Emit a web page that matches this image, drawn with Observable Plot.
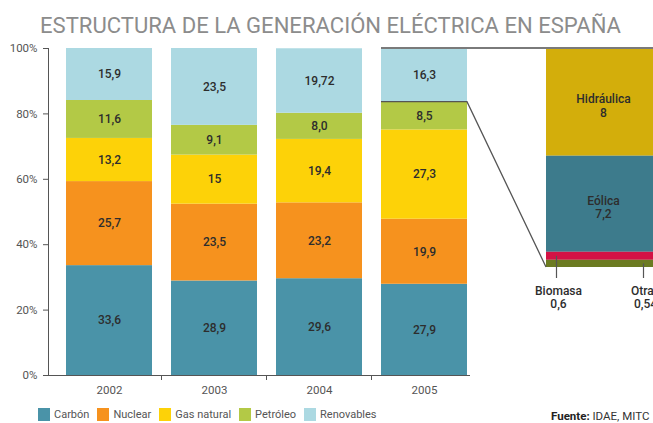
<!DOCTYPE html>
<html><head><meta charset="utf-8">
<script src="https://cdn.jsdelivr.net/npm/d3@7"></script>
<script src="https://cdn.jsdelivr.net/npm/@observablehq/plot@0.6"></script>
<style>
body{margin:0;background:#fff;font-family:Roboto,sans-serif}
#wrap{position:relative;width:653px;height:423px;overflow:hidden;background:#fff}
#title{position:absolute;left:0;top:0}
#main,#panel{position:absolute;left:0;top:40px}
#legend{position:absolute;left:38px;top:408px}
#source{position:absolute;left:551px;top:409px;font-size:11.5px;color:#333;white-space:nowrap}
#source b{color:#222;font-weight:700}
.lg-swatches{min-height:0!important;margin:0!important}
.lg-swatch{margin-right:8px!important}
.lg-swatch > svg{margin-right:4px!important}
</style></head><body>
<div id="wrap">
  <svg id="title" width="653" height="40"><text x="40" y="33" textLength="581" lengthAdjust="spacingAndGlyphs" fill="#8c8c8c" font-family="Roboto, sans-serif" font-size="22.5">ESTRUCTURA DE LA GENERACIÓN ELÉCTRICA EN ESPAÑA</text></svg>
  <div id="main"></div>
  <div id="panel"></div>
  <div id="legend"></div>
  <div id="source"><b>Fuente:</b> IDAE, MITC</div>
</div>
<script>
const years = ["2002", "2003", "2004", "2005"];
const sources = ["Carbón", "Nuclear", "Gas natural", "Petróleo", "Renovables"];
const carbon = ["33,6", "28,9", "29,6", "27,9"];
const nuclear = ["25,7", "23,5", "23,2", "19,9"];
const gas = ["13,2", "15", "19,4", "27,3"];
const petroleo = ["11,6", "9,1", "8,0", "8,5"];
const renovables = ["15,9", "23,5", "19,72", "16,3"];
const sourceColors = ["#4a93a8", "#f6921e", "#fdd208", "#b3c946", "#acd9e2"];
const yTicks = [0, 20, 40, 60, 80, 100];

const renewYear = "2005";
const renewTypes = ["Hidráulica", "Eólica", "Biomasa", "Otras"];
const renewValues = ["8", "7,2", "0,6", "0,54"];
const renewColors = ["#d3ae0b", "#3d7b8c", "#d31245", "#6b7b21"];

const num = s => +s.replace(",", ".");
const series = [carbon, nuclear, gas, petroleo, renovables];
const rows = years.flatMap((year, i) => series.map((vals, j) => ({year, source: sources[j], label: vals[i], value: num(vals[i])})));

const main = Plot.plot({
  width: 653, height: 360, marginTop: 8, marginBottom: 25, marginLeft: 48, marginRight: 183,
  style: {fontFamily: "Roboto, sans-serif", fontSize: "11.5px", color: "#555", background: "#fff"},
  x: {domain: years, range: [48, 486], paddingInner: 0.18, paddingOuter: 0.17, label: null, tickSize: 0, tickPadding: 10},
  y: {domain: [0, 100], ticks: yTicks, tickFormat: d => d + "%", tickSize: 5, tickPadding: 6, label: null, line: true},
  color: {domain: sources, range: sourceColors},
  marks: [
    Plot.barY(rows, {x: "year", y: "value", fill: "source", order: sources}),
    Plot.text(rows, Plot.stackY({x: "year", y: "value", z: "source", order: sources, text: "label", fontSize: 12, fontWeight: 500, fill: "#2d2d2d"})),
    Plot.ruleY([0], {stroke: "#555"})
  ]
});
document.getElementById("main").appendChild(main);

const renewRows = renewTypes.map((type, i) => ({cat: renewYear, type, label: renewValues[i], value: num(renewValues[i])}));
const renewOrder = [...renewTypes].reverse();
const stackOpts = {x: "cat", y: "value", z: "type", order: renewOrder};

function callout(name, dx) {
  const s = Plot.stackY(stackOpts);
  return [
    Plot.ruleX(renewRows, Plot.filter(d => d.type === name, {...s, y1: s.y, y2: 0, dx, insetBottom: -11, stroke: "#555", strokeWidth: 1.2})),
    Plot.text(renewRows, Plot.filter(d => d.type === name, {x: "cat", y: 0, dx: dx + 2, dy: 18, lineAnchor: "top", lineHeight: 1.1, text: d => d.type + "\n" + d.label, fontSize: 12, fontWeight: 500, fill: "#2d2d2d"}))
  ];
}

const panel = Plot.plot({
  width: 653, height: 360, marginTop: 9, marginBottom: 133,
  style: {fontFamily: "Roboto, sans-serif", fontSize: "12px", background: "transparent"},
  x: {domain: [renewYear], range: [546, 660], padding: 0, axis: null},
  y: {domain: [0, d3.sum(renewRows, d => d.value)], axis: null},
  color: {domain: renewTypes, range: renewColors},
  marks: [
    Plot.barY(renewRows, {x: "cat", y: "value", fill: "type", order: renewOrder}),
    Plot.text(renewRows, Plot.filter(d => d.value >= 1, Plot.stackY({...stackOpts, text: d => d.type + "\n" + d.label, lineHeight: 1.1, fontSize: 12, fontWeight: 500, fill: "#2d2d2d", dy: 3}))),
    ...callout("Biomasa", -47),
    ...callout("Otras", 40)
  ]
});
document.getElementById("panel").appendChild(panel);

// connectors & boundary ticks, positioned through the plots' scales
const xs = main.scale("x"), ys = main.scale("y");
const px = panel.scale("x"), py = panel.scale("y");
const bw = xs.bandwidth;
const step = xs.apply(years[1]) - xs.apply(years[0]);
const msvg = d3.select(main);
years.slice(1).forEach(y => {
  const xb = xs.apply(y) - (step - bw) / 2;
  msvg.append("line").attr("x1", xb).attr("x2", xb).attr("y1", ys.apply(0)).attr("y2", ys.apply(0) + 5).attr("stroke", "#555");
});
const belowRenew = d3.sum(rows.filter(d => d.year === renewYear && d.source !== "Renovables"), d => d.value);
const psvg = d3.select(panel);
const x0 = xs.apply(renewYear), x1 = x0 + bw;
psvg.append("line").attr("x1", x0).attr("x2", 653).attr("y1", ys.apply(100)).attr("y2", ys.apply(100)).attr("stroke", "#7a7a7a").attr("stroke-width", 2);
psvg.append("polyline")
  .attr("points", [[x0, ys.apply(belowRenew)], [x1, ys.apply(belowRenew)], [px.apply(renewYear), py.apply(0)]].map(p => p.join(",")).join(" "))
  .attr("fill", "none").attr("stroke", "#555").attr("stroke-width", 1.3);

const legend = Plot.legend({color: {domain: sources, range: sourceColors}, legend: "swatches", swatchWidth: 12, swatchHeight: 13, className: "lg", style: {fontFamily: "Roboto, sans-serif", fontSize: "11px", color: "#555"}});
document.getElementById("legend").appendChild(legend);
</script>
</body></html>
